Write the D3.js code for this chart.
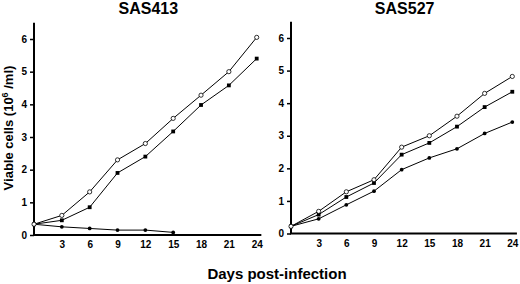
<!DOCTYPE html>
<html>
<head>
<meta charset="utf-8">
<script src="https://cdn.jsdelivr.net/npm/d3@7"></script>
<style>
  body { margin: 0; background: #fff; }
  svg { display: block; font-family: "Liberation Sans", Arial, sans-serif; }
  .tick text { font-weight: bold; font-size: 10px; fill: #000; }
  .tick line { stroke: #000; stroke-width: 1.5; }
</style>
</head>
<body>
<script>
// DATA

let days = [0, 3, 6, 9, 12, 15, 18, 21, 24];
let xTicks = [3, 6, 9, 12, 15, 18, 21, 24];
let yTicks = [0, 1, 2, 3, 4, 5, 6];

// SAS413
let sas413Open = [0.33, 0.6, 1.32, 2.3, 2.8, 3.57, 4.28, 5.0, 6.05];
let sas413Square = [0.33, 0.45, 0.85, 1.9, 2.4, 3.17, 3.98, 4.58, 5.4];
let sas413Filled = [0.33, 0.25, 0.2, 0.15, 0.15, 0.08];

// SAS527
let sas527Open = [0.22, 0.68, 1.28, 1.65, 2.65, 3.0, 3.6, 4.3, 4.82];
let sas527Square = [0.22, 0.58, 1.12, 1.55, 2.42, 2.78, 3.28, 3.88, 4.35];
let sas527Filled = [0.22, 0.45, 0.88, 1.3, 1.96, 2.32, 2.6, 3.07, 3.42];

// VISUALIZATION

let width = 520;
let height = 284;

let svg = d3.select('body').append('svg')
    .attr('width', width)
    .attr('height', height);

function panel(title, left, right, bottom, top, series) {
    let x = d3.scaleLinear().domain([0, 24]).range([left, right]);
    let y = d3.scaleLinear().domain([0, 6]).range([bottom, top]);

    let g = svg.append("g");

    // axis lines
    g.append("line")
        .attr("x1", x(0)).attr("x2", x(0))
        .attr("y1", y(0)).attr("y2", y(6.5))
        .attr("stroke", "#000").attr("stroke-width", 2);
    g.append("line")
        .attr("x1", x(0) - 1).attr("x2", x(24.5))
        .attr("y1", y(0)).attr("y2", y(0))
        .attr("stroke", "#000").attr("stroke-width", 2);

    let y_axis = d3.axisLeft(y).tickValues(yTicks).tickFormat(d3.format("d")).tickSize(4).tickPadding(3);
    g.append("g")
        .attr("transform", "translate(" + x(0) + ",0)")
        .call(y_axis)
        .call(a => a.select(".domain").remove());

    let x_axis = d3.axisBottom(x).tickValues(xTicks).tickFormat(d3.format("d")).tickSize(0).tickPadding(6);
    g.append("g")
        .attr("transform", "translate(0," + y(0) + ")")
        .call(x_axis)
        .call(a => a.select(".domain").remove());

    g.append("text")
        .attr("x", (x(0) + x(24)) / 2 + 3)
        .attr("y", 14)
        .attr("text-anchor", "middle")
        .style("font-size", "16px")
        .style("font-weight", "bold")
        .text(title);

    let line = d3.line()
        .x((d, i) => x(days[i]))
        .y(d => y(d));

    series.forEach(s => {
        g.append("path")
            .attr("d", line(s.values))
            .attr("fill", "none")
            .attr("stroke", "#000")
            .attr("stroke-width", 1);

        let pts = g.selectAll(null).data(s.values).enter();
        if (s.kind == "square") {
            pts.append("rect")
                .attr("x", (d, i) => x(days[i]) - 1.9)
                .attr("y", d => y(d) - 1.9)
                .attr("width", 3.8)
                .attr("height", 3.8)
                .attr("fill", "#000");
        } else {
            pts.append("circle")
                .attr("cx", (d, i) => x(days[i]))
                .attr("cy", d => y(d))
                .attr("r", s.kind == "open" ? 2.1 : 1.9)
                .attr("fill", s.kind == "open" ? "#fff" : "#000")
                .attr("stroke", "#000")
                .attr("stroke-width", s.kind == "open" ? 0.8 : 0);
        }
    });
}

panel("SAS413", 34, 256.7, 235, 39, [
    { values: sas413Filled, kind: "filled" },
    { values: sas413Square, kind: "square" },
    { values: sas413Open, kind: "open" }
]);

panel("SAS527", 291, 512.3, 233.5, 38, [
    { values: sas527Filled, kind: "filled" },
    { values: sas527Square, kind: "square" },
    { values: sas527Open, kind: "open" }
]);

// axis titles
svg.append("text")
    .attr("x", 277)
    .attr("y", 279)
    .attr("text-anchor", "middle")
    .style("font-size", "15px")
    .style("font-weight", "bold")
    .text("Days post-infection");

let yl = svg.append("text")
    .attr("transform", "translate(13,128) rotate(-90)")
    .attr("text-anchor", "middle")
    .style("font-size", "13px")
    .style("font-weight", "bold");
yl.append("tspan").text("Viable cells  (10");
yl.append("tspan").attr("dy", -5).style("font-size", "9px").text("6");
yl.append("tspan").attr("dy", 5).text(" /ml)");
</script>
</body>
</html>
